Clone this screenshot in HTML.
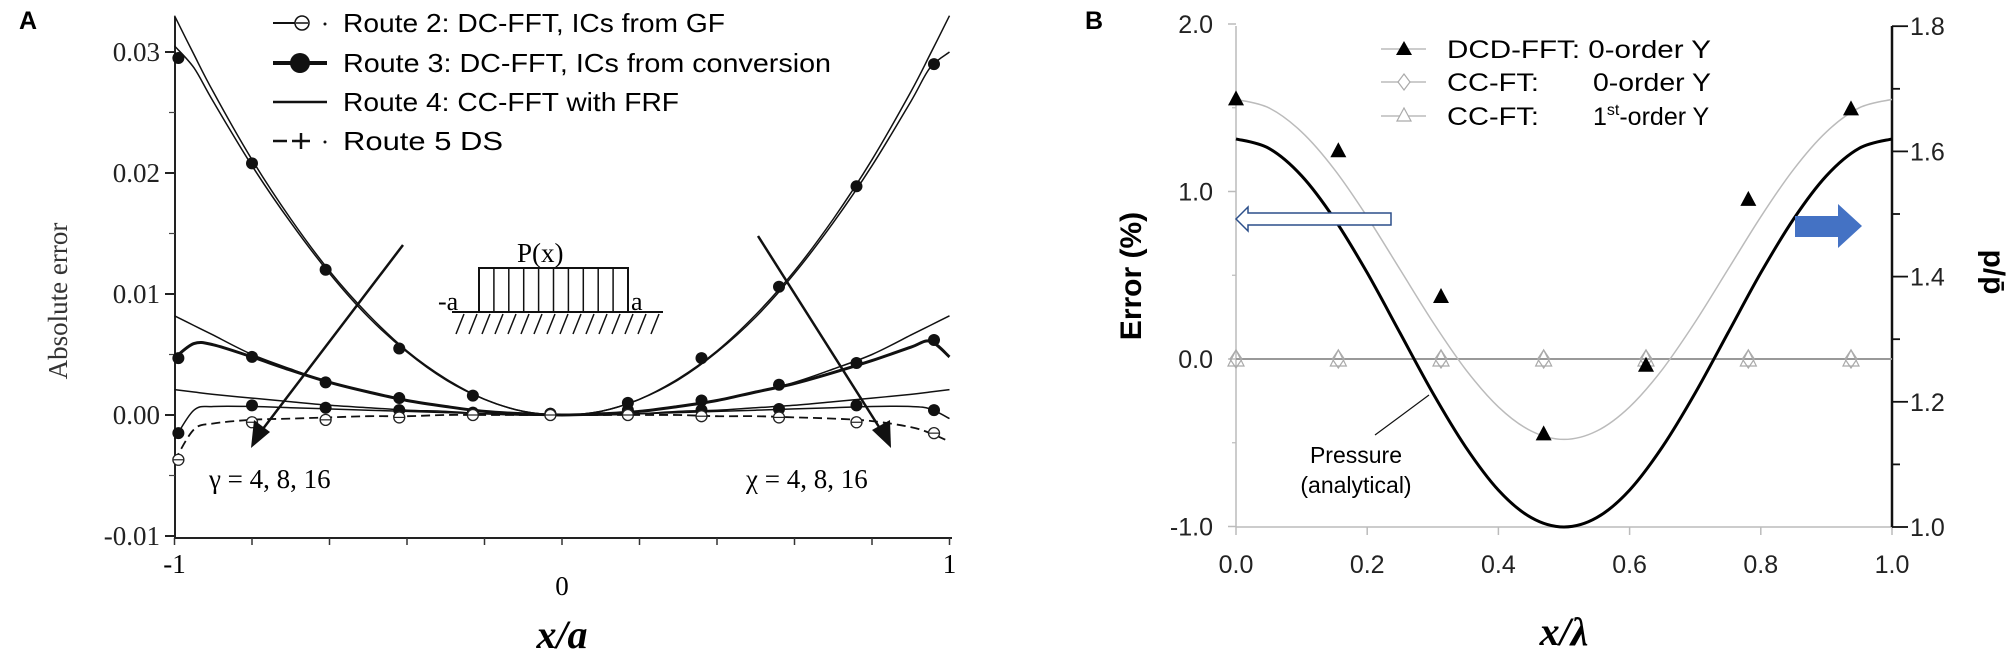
<!DOCTYPE html>
<html><head><meta charset="utf-8"><style>
html,body{margin:0;padding:0;background:#fff;}
svg{display:block;}
.serif{font-family:"Liberation Serif",serif;}
.sans{font-family:"Liberation Sans",sans-serif;}
</style></head><body>
<svg id="fig" width="2008" height="665" viewBox="0 0 2008 665" xmlns="http://www.w3.org/2000/svg">
<g id="panelA">
  <text x="19" y="29" class="sans" font-weight="bold" font-size="25">A</text>
  <line x1="175" y1="17" x2="175" y2="538" stroke="#222" stroke-width="2"/>
  <line x1="175" y1="538" x2="952" y2="538" stroke="#222" stroke-width="2"/>
  <g id="aTicks"></g>
  <text x="67" y="301" transform="rotate(-90 67 301)" text-anchor="middle" class="serif" font-size="27" fill="#333">Absolute error</text>
  <text x="562" y="648" text-anchor="middle" class="serif" font-size="40" font-weight="bold" font-style="italic">x/a</text>
  <g id="aSeries"></g>
  <g>
    <g>
      <line x1="273" y1="23" x2="302" y2="23" stroke="#111" stroke-width="2"/><circle cx="302" cy="23" r="7" fill="#fff" stroke="#111" stroke-width="1.5"/><line x1="296" y1="23" x2="308" y2="23" stroke="#111" stroke-width="1.5"/><circle cx="325" cy="24" r="1.5" fill="#111"/>
      <text x="343" y="32" class="sans" font-size="26" textLength="382" lengthAdjust="spacingAndGlyphs">Route 2: DC-FFT, ICs from GF</text>
    </g>
    <g>
      <line x1="273" y1="63" x2="327" y2="63" stroke="#111" stroke-width="4"/><circle cx="300" cy="63" r="10" fill="#111"/>
      <text x="343" y="72" class="sans" font-size="26" textLength="488" lengthAdjust="spacingAndGlyphs">Route 3: DC-FFT, ICs from conversion</text>
    </g>
    <g>
      <line x1="273" y1="102" x2="327" y2="102" stroke="#111" stroke-width="2.5"/>
      <text x="343" y="111" class="sans" font-size="26" textLength="336" lengthAdjust="spacingAndGlyphs">Route 4: CC-FFT with FRF</text>
    </g>
    <g>
      <line x1="273" y1="141" x2="287" y2="141" stroke="#111" stroke-width="2.5"/><line x1="292" y1="141" x2="310" y2="141" stroke="#111" stroke-width="2.5"/><line x1="301" y1="133" x2="301" y2="149" stroke="#111" stroke-width="2.5"/><circle cx="325" cy="142" r="1.5" fill="#111"/>
      <text x="343" y="150" class="sans" font-size="26" textLength="160" lengthAdjust="spacingAndGlyphs">Route 5   DS</text>
    </g>
  </g>
  <g>
    <line x1="403" y1="245" x2="256" y2="438" stroke="#111" stroke-width="2.5"/>
    <polygon points="251,448 254,420 270,432" fill="#111"/>
    <text x="209" y="488" class="serif" font-size="27">γ = 4, 8, 16</text>
  </g>
  <g>
    <line x1="758" y1="236" x2="886" y2="438" stroke="#111" stroke-width="2.5"/>
    <polygon points="891,448 872,430 890,420" fill="#111"/>
    <text x="746" y="488" class="serif" font-size="27">χ = 4, 8, 16</text>
  </g>
  <g id="inset">
    <text x="517" y="262" class="serif" font-size="27">P(x)</text>
    <rect x="479" y="268" width="149" height="44" fill="none" stroke="#111" stroke-width="2"/>
    <text x="438" y="310" class="serif" font-size="26">-a</text>
    <text x="631" y="310" class="serif" font-size="26">a</text>
    <line x1="452" y1="312" x2="663" y2="312" stroke="#111" stroke-width="2"/>
  </g>
</g>
<g id="panelB">
  <text x="1085" y="29" class="sans" font-weight="bold" font-size="25">B</text>
  <line x1="1236" y1="26" x2="1236" y2="527" stroke="#bbb" stroke-width="1.5"/>
  <line x1="1236" y1="527" x2="1892" y2="527" stroke="#bbb" stroke-width="1.5"/>
  <line x1="1892" y1="26" x2="1892" y2="527" stroke="#111" stroke-width="2.5"/>
  <g id="bTicks"></g>
  <text x="1141" y="276" transform="rotate(-90 1141 276)" text-anchor="middle" class="sans" font-weight="bold" font-size="30">Error (%)</text>
  <text x="1984" y="272" transform="rotate(90 1984 272)" text-anchor="middle" class="sans" font-weight="bold" font-size="30">p/p̄</text>
  <text x="1564" y="645" text-anchor="middle" class="serif" font-size="40" font-weight="bold" font-style="italic">x/λ</text>
  <g id="bSeries"></g>
  <g>
    <g>
      <line x1="1381" y1="49" x2="1426" y2="49" stroke="#bbb" stroke-width="1.5"/><polygon points="1404,41 1412,55 1396,55" fill="#000"/>
      <text x="1447" y="58" class="sans" font-size="25" textLength="264" lengthAdjust="spacingAndGlyphs">DCD-FFT:  0-order Y</text>
    </g>
    <g>
      <line x1="1381" y1="82" x2="1426" y2="82" stroke="#bbb" stroke-width="1.5"/><polygon points="1404,74 1410,82 1404,90 1398,82" fill="#fff" stroke="#aaa" stroke-width="1.2"/>
      <text x="1447" y="91" class="sans" font-size="25" textLength="92" lengthAdjust="spacingAndGlyphs">CC-FT:</text>
      <text x="1593" y="91" class="sans" font-size="25" textLength="118" lengthAdjust="spacingAndGlyphs">0-order Y</text>
    </g>
    <g>
      <line x1="1381" y1="116" x2="1426" y2="116" stroke="#bbb" stroke-width="1.5"/><polygon points="1404,108 1411,121 1397,121" fill="#fff" stroke="#aaa" stroke-width="1.2"/>
      <text x="1447" y="125" class="sans" font-size="25" textLength="92" lengthAdjust="spacingAndGlyphs">CC-FT:</text>
      <text x="1593" y="125" class="sans" font-size="25">1<tspan font-size="16" dy="-10">st</tspan><tspan dy="10">-order Y</tspan></text>
    </g>
  </g>
  <g>
    <polygon points="1236,219 1248,207 1248,213 1391,213 1391,225 1248,225 1248,231" fill="#fff" stroke="#2c4f8a" stroke-width="1.5"/>
  </g>
  <g>
    <polygon points="1795,216 1838,216 1838,204 1862,226 1838,248 1838,237 1795,237" fill="#4472c4"/>
  </g>
  <g>
    <line x1="1375" y1="435" x2="1429" y2="395" stroke="#111" stroke-width="1.2"/>
    <text x="1356" y="463" text-anchor="middle" class="sans" font-size="23">Pressure</text>
    <text x="1356" y="493" text-anchor="middle" class="sans" font-size="23">(analytical)</text>
  </g>
</g>
</svg>
<script>
// ---------- Panel A data ----------
const aXs = [-1,-0.95,-0.9,-0.8,-0.7,-0.6,-0.5,-0.4,-0.3,-0.2,-0.1,0,0.1,0.2,0.3,0.4,0.5,0.6,0.7,0.8,0.9,0.95,1];
const aBigUpper = [0.0330,0.0298,0.0267,0.0211,0.0162,0.0119,0.0083,0.0053,0.0030,0.0013,0.0003,0,0.0003,0.0013,0.0030,0.0053,0.0083,0.0119,0.0162,0.0211,0.0267,0.0298,0.0330];
const aBigLower = [0.0305,0.0287,0.0259,0.0206,0.0159,0.0117,0.0081,0.0052,0.0029,0.0013,0.0003,0,0.0003,0.0013,0.0029,0.0052,0.0081,0.0117,0.0159,0.0206,0.0259,0.0287,0.0300];
const aMidThin = [0.0082,0.0074,0.0066,0.0050,0.0038,0.0027,0.0019,0.0012,0.0007,0.0003,0.0001,0,0.0001,0.0003,0.0007,0.0012,0.0019,0.0027,0.0038,0.0050,0.0066,0.0074,0.0082];
const aMidThick = [0.0047,0.0059,0.0058,0.0048,0.0037,0.0027,0.0019,0.0012,0.0007,0.0003,0.0001,0,0.0001,0.0003,0.0007,0.0012,0.0019,0.0026,0.0035,0.0045,0.0056,0.0061,0.0048];
const aSmall = [0.0021,0.0019,0.0017,0.0014,0.0011,0.0008,0.0006,0.0004,0.0003,0.0001,0.0000,0,0.0000,0.0001,0.0003,0.0004,0.0006,0.0008,0.0011,0.0014,0.0017,0.0019,0.0021];
const aTiny = [-0.0020,0.0004,0.0007,0.0007,0.0006,0.0005,0.0004,0.0003,0.0002,0.0001,0.0000,0,0.0000,0.0001,0.0002,0.0003,0.0004,0.0005,0.0006,0.0007,0.0007,0.0005,-0.0003];
const aDashed = [-0.0038,-0.0012,-0.0007,-0.0004,-0.0003,-0.0002,-0.0001,-0.0001,0,0,0,0,0,0,0,-0.0001,-0.0001,-0.0002,-0.0003,-0.0005,-0.0010,-0.0015,-0.0022];
const aMarkX = [-0.99,-0.8,-0.61,-0.42,-0.23,-0.03,0.17,0.36,0.56,0.76,0.96];
const aDotsBig = [0.0295,0.0208,0.0120,0.0055,0.0016,0.0001,0.0004,0.0047,0.0106,0.0189,0.0290];
const aDotsMid = [0.0047,0.0048,0.0027,0.0014,0.0002,0.0001,0.0010,0.0012,0.0025,0.0043,0.0062];
const aDotsTiny = [-0.0015,0.0008,0.0006,0.0004,0.0001,0.0000,0.0002,0.0004,0.0005,0.0008,0.0004];
const aHollow = [-0.0037,-0.0006,-0.0004,-0.0002,0.0000,0.0000,0.0000,-0.0001,-0.0002,-0.0006,-0.0015];
const aYTicks = [0.03,0.02,0.01,0.00,-0.01];
const aYTickLabels = ["0.03","0.02","0.01","0.00","-0.01"];
const aXTickLabels = ["-1","0","1"];
const aXTickVals = [-1,0,1];

// ---------- Panel B data ----------
const bXs = [0,0.05,0.1,0.15,0.2,0.25,0.3,0.35,0.4,0.45,0.5,0.55,0.6,0.65,0.7,0.75,0.8,0.85,0.9,0.95,1];
const bPressure = [1.62,1.605,1.561,1.492,1.406,1.31,1.214,1.128,1.059,1.015,1.0,1.015,1.059,1.128,1.214,1.31,1.406,1.492,1.561,1.605,1.62];
const bErrCurve = [1.55,1.50,1.356,1.132,0.849,0.535,0.221,-0.062,-0.286,-0.43,-0.48,-0.43,-0.286,-0.062,0.221,0.535,0.849,1.132,1.356,1.50,1.55];
const bMarkX = [0,0.156,0.3125,0.469,0.625,0.781,0.9375];
const bDcd = [1.55,1.24,0.37,-0.45,-0.04,0.95,1.49];
const bCc0 = [0,0,0,0,0,0,0];
const bCc1 = [0,0,0,0,0,0,0];
const bXTicks = [0,0.2,0.4,0.6,0.8,1.0];
const bXTickLabels = ["0.0","0.2","0.4","0.6","0.8","1.0"];
const bLeftTicks = [2,1,0,-1];
const bLeftTickLabels = ["2.0","1.0","0.0","-1.0"];
const bRightTicks = [1.8,1.6,1.4,1.2,1.0];
const bRightTickLabels = ["1.8","1.6","1.4","1.2","1.0"];

const NS = "http://www.w3.org/2000/svg";
function mk(tag, attrs, parent){const e=document.createElementNS(NS,tag);for(const k in attrs)e.setAttribute(k,attrs[k]);parent.appendChild(e);return e;}
function smooth(pts){let d="M"+pts[0][0].toFixed(1)+","+pts[0][1].toFixed(1);
  for(let i=0;i<pts.length-1;i++){const p0=pts[Math.max(0,i-1)],p1=pts[i],p2=pts[i+1],p3=pts[Math.min(pts.length-1,i+2)];
    const c1=[p1[0]+(p2[0]-p0[0])/6,p1[1]+(p2[1]-p0[1])/6],c2=[p2[0]-(p3[0]-p1[0])/6,p2[1]-(p3[1]-p1[1])/6];
    d+="C"+c1[0].toFixed(1)+","+c1[1].toFixed(1)+" "+c2[0].toFixed(1)+","+c2[1].toFixed(1)+" "+p2[0].toFixed(1)+","+p2[1].toFixed(1);}
  return d;}

// Panel A axes
const ax = x => 562 + x*387.5;
const ay = v => 415 - v*12100;
const aT = document.getElementById("aTicks");
aYTicks.forEach((v,i)=>{
  const t=mk("line",{x1:165,y1:ay(v),x2:175,y2:ay(v),stroke:"#222","stroke-width":2},aT);
  
  
  if(v<0.03){const m=mk("line",{x1:169,y1:ay(v+0.005),x2:175,y2:ay(v+0.005),stroke:"#444","stroke-width":1.2},aT);
    
    }
  const l=mk("text",{x:160,y:ay(v)+9,"text-anchor":"end","font-size":27,"class":"serif",fill:"#222"},aT);
  l.textContent=aYTickLabels[i];
  
  
});
for(let k=-5;k<=5;k++){const x=k/5;
  const t=mk("line",{x1:ax(x),y1:538,x2:ax(x),y2:545,stroke:"#333","stroke-width":1.5},aT);
  
  }
aXTickVals.forEach((v,i)=>{
  const l=mk("text",{x:ax(v),y:v===0?595:573,"text-anchor":"middle","font-size":27,"class":"serif"},aT);
  l.textContent=aXTickLabels[i];
  
  
});
const ins=document.getElementById("inset");
for(let i=0;i<9;i++){const x=479+149*(i+1)/10;
  const b=mk("line",{x1:x,y1:268,x2:x,y2:312,stroke:"#111","stroke-width":1.5},ins);
  
  }
for(let x=456;x<=662;x+=13){
  const h=mk("line",{x1:x+8,y1:314,x2:x,y2:334,stroke:"#111","stroke-width":1.5},ins);
  
  }

const aS=document.getElementById("aSeries");
function aCurve(vals,name,w,dash){
  const p=mk("path",{d:smooth(aXs.map((x,i)=>[ax(x),ay(vals[i])])),fill:"none",stroke:"#111","stroke-width":w},aS);
  if(dash)p.setAttribute("stroke-dasharray",dash);
  
  }
aCurve(aBigUpper,'route4-curve-gamma4',1.5);
aCurve(aBigLower,'route3-curve-gamma4',1.5);
aCurve(aMidThin,'route4-curve-gamma8',1.5);
aCurve(aMidThick,'route3-curve-gamma8',3);
aCurve(aSmall,'route4-curve-gamma16',1.5);
aCurve(aTiny,'route3-curve-gamma16',1.5);
aCurve(aDashed,'route2-curve',1.8,"9,5");
function aDots(vals,name){vals.forEach((v,i)=>{
  const c=mk("circle",{cx:ax(aMarkX[i]),cy:ay(v),r:6,fill:"#111"},aS);
  
  });}
aDots(aDotsBig,'route3-point-gamma4');
aDots(aDotsMid,'route3-point-gamma8');
aDots(aDotsTiny,'route3-point-gamma16');
aHollow.forEach((v,i)=>{
  const c=mk("circle",{cx:ax(aMarkX[i]),cy:ay(v),r:5.5,fill:"#fff",stroke:"#222","stroke-width":1.3},aS);
  
  
  const l=mk("line",{x1:ax(aMarkX[i])-5.5,y1:ay(v),x2:ax(aMarkX[i])+5.5,y2:ay(v),stroke:"#222","stroke-width":1.2},aS);
  
  
});

// Panel B axes
const bx = x => 1236 + x*656;
const byL = v => 359 - v*167.5;
const byR = p => 527 - (p-1)*626;
const bT=document.getElementById("bTicks");
bXTicks.forEach((v,i)=>{
  const t=mk("line",{x1:bx(v),y1:527,x2:bx(v),y2:535,stroke:"#bbb","stroke-width":1.5},bT);
  
  
  const l=mk("text",{x:bx(v),y:573,"text-anchor":"middle","font-size":25,"class":"sans",fill:"#222"},bT);
  l.textContent=bXTickLabels[i];
  
  
});
bLeftTicks.forEach((v,i)=>{
  const t=mk("line",{x1:1228,y1:byL(v),x2:1236,y2:byL(v),stroke:"#bbb","stroke-width":1.5},bT);
  
  
  if(v>-1){const m=mk("line",{x1:1232,y1:byL(v-0.5),x2:1236,y2:byL(v-0.5),stroke:"#bbb","stroke-width":1.2},bT);
    
    }
  const l=mk("text",{x:1213,y:byL(v)+9,"text-anchor":"end","font-size":25,"class":"sans",fill:"#222"},bT);
  l.textContent=bLeftTickLabels[i];
  
  
});
for(let k=0;k<=8;k++){const p=1+k*0.1;
  const t=mk("line",{x1:1892,y1:byR(p),x2:k%2===0?1908:1900,y2:byR(p),stroke:"#111","stroke-width":1.8},bT);
  
  }
bRightTicks.forEach((v,i)=>{
  const l=mk("text",{x:1910,y:byR(v)+9,"font-size":25,"class":"sans",fill:"#222"},bT);
  l.textContent=bRightTickLabels[i];
  
  
});

const bS=document.getElementById("bSeries");
const zl=mk("path",{d:"M"+bx(0)+","+byL(bCc0[0])+" "+bMarkX.map((x,i)=>"L"+bx(x)+","+byL(bCc0[i])).join(" ")+" L"+bx(1)+","+byL(bCc0[bCc0.length-1]),fill:"none",stroke:"#999","stroke-width":2},bS);


const ec=mk("path",{d:smooth(bXs.map((x,i)=>[bx(x),byL(bErrCurve[i])])),fill:"none",stroke:"#bbb","stroke-width":1.5},bS);


const pc=mk("path",{d:smooth(bXs.map((x,i)=>[bx(x),byR(bPressure[i])])),fill:"none",stroke:"#000","stroke-width":3},bS);


bCc1.forEach((v,i)=>{const x=bx(bMarkX[i]),y=byL(v);
  const t=mk("polygon",{points:`${x},${y-9} ${x+8},${y+7} ${x-8},${y+7}`,fill:"none",stroke:"#aaa","stroke-width":1.2},bS);
  
  });
bCc0.forEach((v,i)=>{const x=bx(bMarkX[i]),y=byL(v);
  const d=mk("polygon",{points:`${x},${y-9} ${x+6},${y} ${x},${y+9} ${x-6},${y}`,fill:"none",stroke:"#aaa","stroke-width":1.2},bS);
  
  });
bDcd.forEach((v,i)=>{const x=bx(bMarkX[i]),y=byL(v);
  const t=mk("polygon",{points:`${x},${y-9} ${x+8},${y+6} ${x-8},${y+6}`,fill:"#000"},bS);
  
  });
</script>
</body></html>
